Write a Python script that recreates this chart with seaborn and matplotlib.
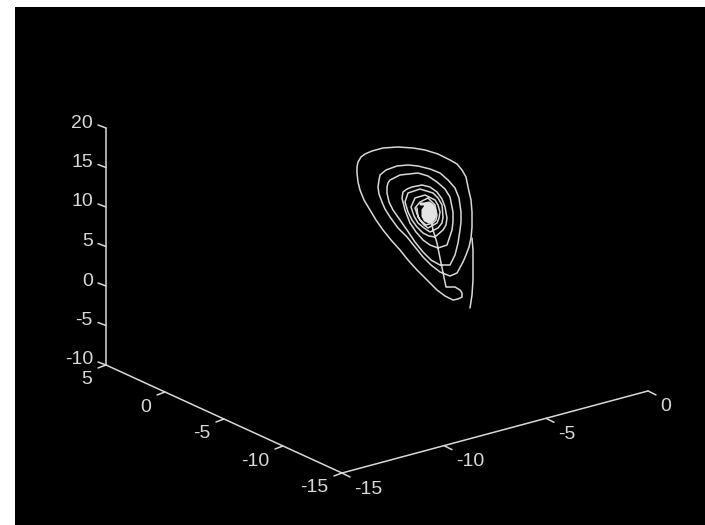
import matplotlib
matplotlib.use('Agg')
import pandas as pd
import matplotlib.pyplot as plt
import seaborn as sns

# tick values of the three box axes
z_ticks = [-10, -5, 0, 5, 10, 15, 20]
left_ticks = [5, 0, -5, -10, -15]
right_ticks = [-15, -10, -5, 0]

# trajectory (screen pixels, it is already projected)
stroke_x = [472, 473, 473, 473, 472, 470]
stroke_y = [238, 250, 265, 280, 295, 308]

# tail from the centre, then outer loop, then loops two and three
curve_x = [430, 433, 437, 440, 444, 446, 451, 455, 460, 462, 462, 458, 453, 445, 437, 427, 417, 408, 400,
           391, 383, 376, 370, 364, 360, 358, 357, 357, 358, 361, 365, 372, 383, 398, 413, 425, 438, 450,
           457, 462, 466, 468, 471, 472, 472, 471, 469, 466, 463, 457, 450, 440, 431, 423, 415, 407, 398,
           390, 385, 382, 379, 378, 379, 380, 386, 397, 408, 418, 430, 440, 448, 455, 459, 461, 461, 460,
           458, 455, 450, 440, 431, 423, 415, 407, 400, 393, 389, 387, 387, 388, 390, 400, 418, 428, 437,
           445, 450, 453, 453, 452, 447, 438, 430, 423, 416, 410, 405, 402]
curve_y = [213, 230, 243, 258, 277, 287, 287, 287, 290, 293, 297, 299, 300, 296, 290, 280, 270, 260, 250,
           240, 230, 220, 210, 200, 190, 182, 173, 167, 162, 157, 154, 151, 148, 147, 148, 150, 154, 160,
           164, 170, 177, 187, 200, 212, 227, 238, 247, 255, 262, 273, 276, 272, 265, 257, 247, 237, 228,
           217, 209, 202, 194, 187, 180, 175, 170, 166, 165, 166, 169, 173, 180, 188, 198, 212, 222, 230,
           243, 255, 265, 265, 260, 252, 242, 230, 220, 210, 202, 193, 187, 183, 180, 175, 173, 176, 182,
           189, 197, 212, 222, 230, 245, 248, 245, 240, 232, 223, 210, 198]

# inner rings
rings_x = [403, 407, 412, 422, 430, 437, 442, 445, 447, 446, 443, 435, 429, 423, 417, 412, 408, 405,
           408, 420, 433, 438, 442, 443, 442, 438, 430, 424, 418, 414, 411, 415, 425, 435, 438, 440, 439,
           437, 428, 424, 420, 417, 415, 420, 428, 435, 437, 436, 433, 426, 421, 418, 417]
rings_y = [192, 189, 187, 185, 187, 192, 199, 207, 218, 225, 230, 237, 236, 233, 227, 220, 212, 202,
           193, 189, 193, 198, 205, 217, 223, 228, 232, 228, 223, 216, 207, 198, 195, 200, 205, 212, 218,
           223, 228, 225, 220, 214, 208, 202, 198, 205, 215, 220, 223, 225, 221, 217, 208]

# tight windings that fill the centre
core_x = [421, 424, 429, 433, 435, 435, 433, 429, 425, 423, 423, 426, 430, 433, 433, 431, 428, 425, 425,
          427, 431, 432, 430, 427, 427, 429, 431, 430, 428, 428, 430]
core_y = [204, 204, 203, 206, 211, 216, 220, 222, 220, 216, 210, 206, 205, 208, 213, 218, 220, 217, 212,
          208, 207, 212, 217, 218, 214, 209, 211, 215, 216, 212, 211]


def corner_left(v):
    # left floor edge, 5 at the back corner and -15 at the front
    return 106 + (5 - v) * 11.8, 365 + (5 - v) * 5.4


def corner_right(v):
    # right floor edge, -15 at the front and 0 at the far end
    return 342 + (v + 15) * 20.4, 473 - (v + 15) * 5.47


def corner_z(v):
    return 106, 365 - (v + 10) * 7.9


def draw_line(ax, xs, ys, lw=1.1, color='#d8d8d8'):
    df = pd.DataFrame({'x': xs, 'y': ys})
    sns.lineplot(data=df, x='x', y='y', ax=ax, sort=False, estimator=None, color=color, linewidth=lw)


sns.set_style('dark')
plt.rcParams['font.family'] = ['Liberation Sans', 'DejaVu Sans']

# the black area stops short of the left and top edges of the picture
fig = plt.figure(figsize=(7.05, 5.25), dpi=100, facecolor='white')
ax = fig.add_axes([15 / 705, 0, 690 / 705, 518 / 525], facecolor='black')

# Trajectory
draw_line(ax, curve_x + rings_x, curve_y + rings_y)
draw_line(ax, core_x, core_y, lw=2.2, color='#e4e4e4')
draw_line(ax, stroke_x, stroke_y)

# Box axes
x0, y0 = corner_z(z_ticks[0])
x1, y1 = corner_z(z_ticks[-1])
draw_line(ax, [x0, x1], [y0, y1])
x0, y0 = corner_left(left_ticks[0])
x1, y1 = corner_left(left_ticks[-1])
draw_line(ax, [x0, x1], [y0, y1])
x0, y0 = corner_right(right_ticks[0])
x1, y1 = corner_right(right_ticks[-1])
draw_line(ax, [x0, x1], [y0, y1])

# Ticks and their labels
for v in z_ticks:
    x, y = corner_z(v)
    draw_line(ax, [x, x - 8], [y, y - 3])
    ax.text(x - 13, y - 5, str(v), color='#d8d8d8', fontsize=14, ha='right', va='center')
for v in left_ticks:
    x, y = corner_left(v)
    draw_line(ax, [x, x - 8], [y, y + 3])
    ax.text(x - 14, y + 15, str(v), color='#d8d8d8', fontsize=14, ha='right', va='center')
for v in right_ticks:
    x, y = corner_right(v)
    draw_line(ax, [x, x + 8], [y, y + 4])
    ax.text(x + 12, y + 16, str(v), color='#d8d8d8', fontsize=14, ha='left', va='center')

ax.set_xlim(15, 705)
ax.set_ylim(525, 7)
ax.set_xticks([])
ax.set_yticks([])
ax.set_xlabel('')
ax.set_ylabel('')
sns.despine(ax=ax, left=True, bottom=True)

plt.savefig('out.png', dpi=100, facecolor='white')
